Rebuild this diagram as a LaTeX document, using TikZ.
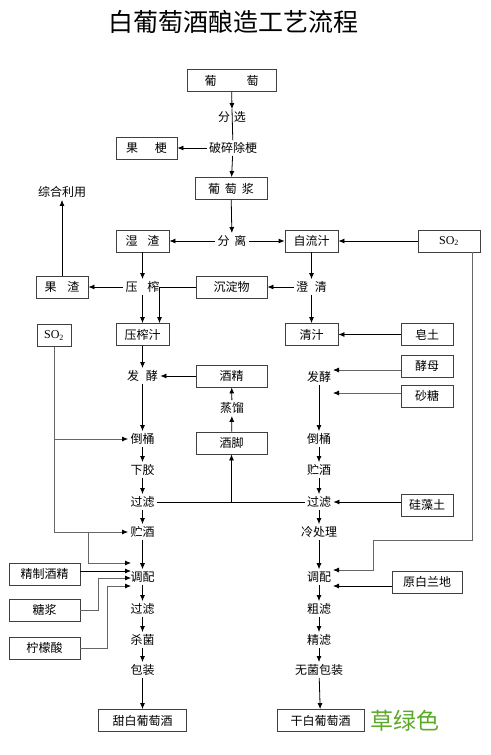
\documentclass[tikz,border=0pt]{standalone}
\usepackage{fontspec}
\setmainfont{Noto Sans CJK SC}
\newfontfamily\sofont{Liberation Serif}
\usetikzlibrary{arrows.meta}
\definecolor{grass}{RGB}{90,170,40}
\begin{document}
\begin{tikzpicture}[x=1pt,y=-1pt,line width=0.8pt,
    every node/.style={font=\fontsize{12}{14}\selectfont, inner sep=2pt},
    box/.style={draw=black!75, minimum height=22pt, inner sep=0pt},
    side/.style={draw=black!60},
    >={Latex[length=6pt,width=5pt,color=black]}]

    \useasboundingbox (0,0) rectangle (490,755);

    \node (T) at (233,22) {\fontsize{25}{28}\selectfont 白葡萄酒酿造工艺流程};

    \node[box,minimum width=89pt] (PT) at (231.5,80.5) {葡\hspace{30pt}萄};
    \node (FX) at (232,117) {分\hspace{4pt}选};
    \node (PS) at (233,148) {破碎除梗};
    \node[box,minimum width=61pt] (GG) at (146.5,148) {果\hspace{17pt}梗};
    \node[box,minimum width=72pt] (PJ) at (231,188.5) {葡\hspace{5pt}萄\hspace{5pt}浆};
    \node (ZH) at (62,192) {综合利用};

    \node (FL) at (232,241) {分\hspace{5pt}离};
    \node[box,minimum width=53pt] (SZ) at (142.5,241) {湿\hspace{10pt}渣};
    \node[box,minimum width=53pt] (ZL) at (311.5,241) {自流汁};
    \node[box,minimum width=62pt] (SOa) at (449,241) {\sofont SO\textsubscript{2}};

    \node (YZ) at (142.5,287) {压\hspace{10pt}榨};
    \node[box,minimum width=52pt] (GZ) at (62,287) {果\hspace{11pt}渣};
    \node[box,minimum width=71pt] (CD) at (231.5,287) {沉淀物};
    \node (CQ) at (311.5,287) {澄\hspace{7pt}清};

    \node[box,minimum width=53pt] (YZZ) at (142.5,334.5) {压榨汁};
    \node[box,minimum width=53pt] (QZ) at (311.5,334.5) {清汁};
    \node[box,minimum width=52pt] (ZT) at (427,334.5) {皂土};
    \node[box,minimum width=34pt] (SOb) at (54,335.5) {\sofont SO\textsubscript{2}};

    \node (FJa) at (142.5,376) {发\hspace{7pt}酵};
    \node[box,minimum width=71pt] (JJ) at (231.5,376) {酒精};
    \node (ZLi) at (232,408) {蒸馏};
    \node[box,minimum width=71pt] (JJa) at (231.5,443) {酒脚};

    \node (FJb) at (319,377) {发酵};
    \node[box,minimum width=52pt] (JM) at (427,366) {酵母};
    \node[box,minimum width=52pt] (ST) at (427,396) {砂糖};
    \coordinate (JMe) at (333,370);
    \coordinate (STe) at (333,393);

    \node (DTa) at (142.5,439) {倒桶};
    \node (XJ) at (142.5,470) {下胶};
    \node (GLa) at (142.5,502) {过滤};
    \node (ZJa) at (142.5,532) {贮酒};
    \node (TPa) at (142.5,577) {调配};
    \node (GLb) at (142.5,609) {过滤};
    \node (SJ) at (142.5,640) {杀菌};
    \node (BZ) at (142.5,670) {包装};
    \node[box,minimum width=88pt] (TB) at (142.5,720.5) {甜白葡萄酒};

    \node (DTb) at (319,439) {倒桶};
    \node (ZJb) at (319,470) {贮酒};
    \node (GLc) at (319,502) {过滤};
    \node (LC) at (319,532) {冷处理};
    \node (TPb) at (319,577) {调配};
    \node (CL) at (319,609) {粗滤};
    \node (JL) at (319,640) {精滤};
    \node (WJ) at (319,670) {无菌包装};
    \node[box,minimum width=87pt] (GB) at (320.5,720.5) {干白葡萄酒};
    \node[text=grass] (CLS) at (405,721) {\fontsize{23}{26}\selectfont 草绿色};

    \node[box,minimum width=52pt] (GZT) at (427,505) {硅藻土};
    \node[box,minimum width=70pt] (YB) at (427,582) {原白兰地};

    \node[box,minimum width=71pt] (JZ) at (44.5,574) {精制酒精};
    \node[box,minimum width=71pt] (TJ) at (44.5,610) {糖浆};
    \node[box,minimum width=71pt] (NM) at (44.5,648) {柠檬酸};

    \coordinate (Ta) at (131,563);
    \coordinate (Tb) at (131,571);
    \coordinate (Tc) at (131,578);
    \coordinate (Td) at (131,586);
    \coordinate (Sa) at (88,532);
    \coordinate (Ra) at (373,540);
    \coordinate (Re) at (333,570);
    \coordinate (Rf) at (333,586);

    \draw[->] (PT) -- (FX.north);
    \draw (FX.north) -- (PS);
    \draw[->] (PS) -- (GG);
    \draw[->] (PS) -- (PJ);
    \draw[->] (PJ) -- (FL);
    \draw[->] (FL) -- (SZ);
    \draw[->] (FL) -- (ZL);
    \draw[->] (SOa) -- (ZL);

    \draw[->] (SZ) -- (YZ);
    \draw[->] (YZ) -- (GZ);
    \draw[->] (GZ) -- (ZH);
    \draw[->] (ZL) -- (CQ);
    \draw[->] (CQ) -- (CD);
    \draw[->] (CD) -| ([xshift=17pt]YZZ.north);
    \draw[->] (YZ) -- (YZZ);
    \draw[->] (CQ) -- (QZ);
    \draw[->] (ZT) -- (QZ);

    \draw[->] (YZZ) -- (FJa);
    \draw[->] (JJ) -- (FJa);
    \draw[->] (ZLi) -- (JJ);
    \draw[->] (JJa) -- (ZLi);
    \draw (GLa) -- (GLc);
    \draw[->] (JJa |- GLa) -- (JJa);

    \draw[->] (FJa) -- (DTa);
    \draw[->] (DTa) -- (XJ);
    \draw[->] (XJ) -- (GLa);
    \draw[->] (GLa) -- (ZJa);
    \draw[->] (ZJa) -- (TPa);
    \draw[->] (TPa) -- (GLb);
    \draw[->] (GLb) -- (SJ);
    \draw[->] (SJ) -- (BZ);
    \draw[->] (BZ) -- (TB);

    \draw[side,->] (SOb) |- (DTa);
    \draw[side,->] (SOb) |- (ZJa);
    \draw[side,->] (Sa) |- (Ta);
    \draw[->] (JZ.east |- Tb) -- (Tb);
    \draw[side,->] (TJ.east) -- ++(18,0) |- (Tc);
    \draw[side,->] (NM.east) -- ++(27,0) |- (Td);

    \draw[side,->] (JM.west |- JMe) -- (JMe);
    \draw[side,->] (ST.west |- STe) -- (STe);
    \draw[->] (FJb) -- (DTb);
    \draw[->] (DTb) -- (ZJb);
    \draw[->] (ZJb) -- (GLc);
    \draw[->] (GZT.west |- GLc) -- (GLc);
    \draw[->] (GLc) -- (LC);
    \draw[->] (LC) -- (TPb);
    \draw[side,->] ([xshift=23pt]SOa.south) |- (Ra) |- (Re);
    \draw[->] (YB.west |- Rf) -- (Rf);
    \draw[->] (TPb) -- (CL);
    \draw[->] (CL) -- (JL);
    \draw[->] (JL) -- (WJ);
    \draw[->] (WJ) -- (GB);

\end{tikzpicture}
\end{document}
